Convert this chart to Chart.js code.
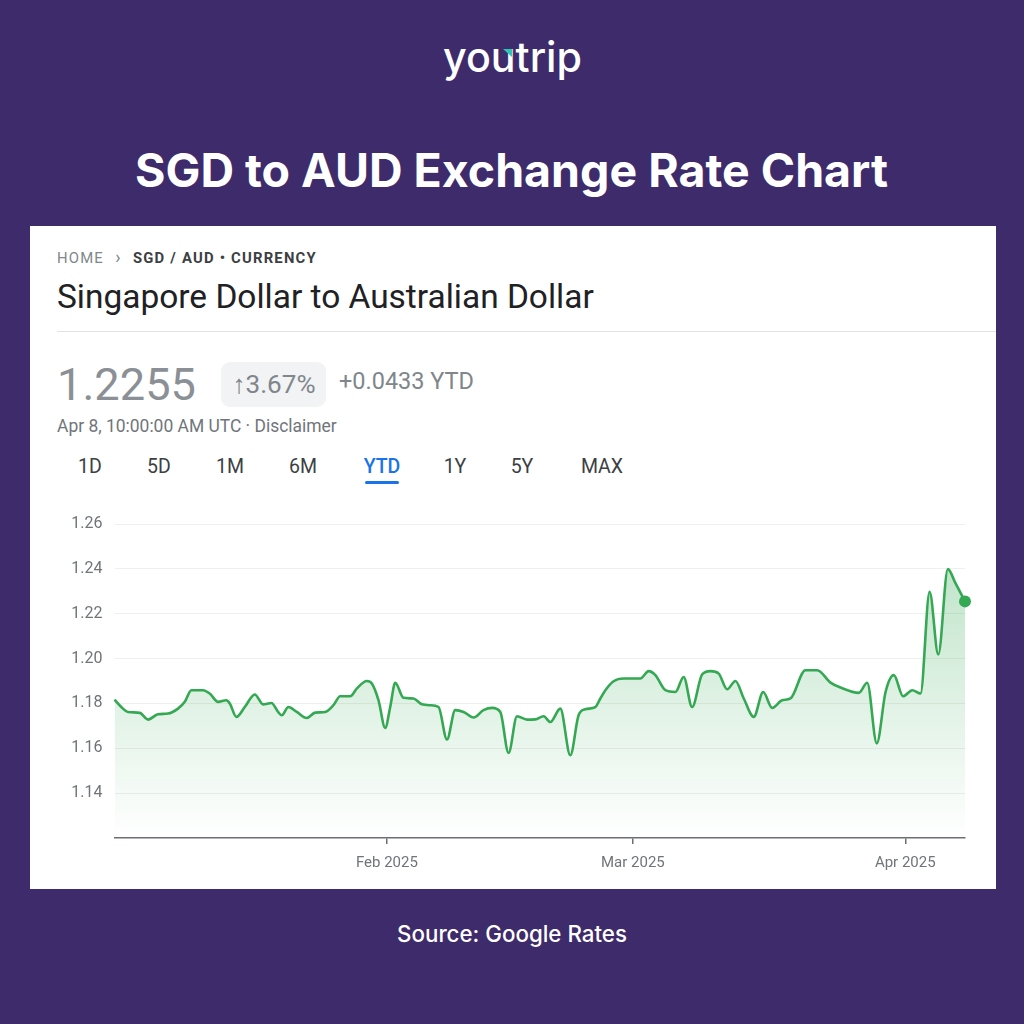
<!DOCTYPE html>
<html>
<head>
<meta charset="utf-8">
<script src="https://cdn.jsdelivr.net/npm/chart.js@4.4.1/dist/chart.umd.min.js"></script>
<style>
html,body{margin:0;padding:0;}
body{width:1024px;height:1024px;background:#3e2b6b;position:relative;overflow:hidden;font-family:Roboto,Arial,sans-serif;}
.t{position:absolute;white-space:nowrap;line-height:1;}
#card{position:absolute;left:30px;top:226px;width:966px;height:663px;background:#fff;}
#divider{position:absolute;left:57px;top:331px;width:939px;height:1px;background:#e3e3e3;}
#pill{position:absolute;left:221px;top:362px;width:105px;height:45px;background:#f1f3f4;border-radius:9px;}
#uline{position:absolute;left:365px;top:481px;width:34px;height:3px;background:#1a73e8;border-radius:2px;}
#accent{position:absolute;width:0;height:0;border-left:9px solid transparent;border-top:8px solid #2ec4b6;}
#chartBox{position:absolute;left:30px;top:500px;width:966px;height:385px;}
</style>
</head>
<body>
<div id="card"></div>
<div id="logo" class="t" style="color:#fff;font-family:Inter,'Open Sans',sans-serif;font-weight:500;">youtrip</div>
<div id="accent"></div>
<div id="title" class="t" style="color:#fff;font-family:Inter,'Open Sans',sans-serif;font-weight:700;">SGD to AUD Exchange Rate Chart</div>
<div id="crumb" class="t" style="letter-spacing:1.2px;color:#5f6368;"><span style="color:#80868b">HOME</span><span style="color:#80868b;font-size:1.2em;">&nbsp;&nbsp;›&nbsp;&nbsp;</span><span style="font-weight:700;color:#3c4043">SGD / AUD • CURRENCY</span></div>
<div id="heading" class="t" style="color:#202124;">Singapore Dollar to Australian Dollar</div>
<div id="divider"></div>
<div id="price" class="t" style="color:#8b9096;">1.2255</div>
<div id="pill"></div>
<div id="pct" class="t" style="color:#80868b;">↑3.67%</div>
<div id="ytd" class="t" style="color:#80868b;">+0.0433 YTD</div>
<div id="date" class="t" style="color:#70757a;">Apr 8, 10:00:00 AM UTC · Disclaimer</div>
<div id="tab0" class="t" style="color:#3c4043;">1D</div>
<div id="tab1" class="t" style="color:#3c4043;">5D</div>
<div id="tab2" class="t" style="color:#3c4043;">1M</div>
<div id="tab3" class="t" style="color:#3c4043;">6M</div>
<div id="tab4" class="t" style="color:#1a73e8;font-weight:500;">YTD</div>
<div id="tab5" class="t" style="color:#3c4043;">1Y</div>
<div id="tab6" class="t" style="color:#3c4043;">5Y</div>
<div id="tab7" class="t" style="color:#3c4043;">MAX</div>
<div id="uline"></div>
<div id="chartBox"><canvas id="c" width="966" height="385"></canvas></div>
<div id="source" class="t" style="color:#fff;font-family:Inter,'Open Sans',sans-serif;font-weight:500;">Source: Google Rates</div>

<script>
// Days since Jan 1 2025 (x) and SGD->AUD rate (y)
const days = [0,0.77,1.54,2.87,3.82,4.95,6.09,7.23,8.0,8.75,
10.08,10.84,11.79,12.73,13.12,13.87,14.83,15.97,16.91,17.86,
18.62,19.04,19.79,20.75,21.89,22.84,23.97,24.92,25.68,26.82,
27.59,28.72,29.29,30.05,30.81,31.38,31.95,32.89,34.03,34.99,
35.93,36.88,37.84,38.78,39.73,40.87,42.0,42.96,43.91,44.85,
45.81,46.95,47.89,48.84,49.6,50.74,51.88,52.82,53.59,54.73,
55.3,55.87,56.81,57.95,59.85,60.8,61.56,62.7,63.84,64.78,
65.74,66.88,67.82,68.77,69.73,70.67,71.62,72.76,73.83,74.85,
75.99,76.94,78.64,79.98,81.49,82.63,84.71,85.67,86.76,87.76,
88.7,89.75,90.8,91.74,92.77,93.76,94.85,95.73,96.8];
const rates = [1.1817,1.1784,1.1762,1.1758,1.1728,1.1752,1.1755,1.1777,1.1807,1.1859,
1.1859,1.1844,1.1807,1.1814,1.1800,1.1740,1.1784,1.1840,1.1796,1.1802,
1.1762,1.1747,1.1784,1.1762,1.1735,1.1759,1.1762,1.1792,1.1832,1.1832,
1.1867,1.1900,1.1889,1.1814,1.1691,1.1784,1.1892,1.1825,1.1822,1.1796,
1.1792,1.1784,1.1639,1.1770,1.1762,1.1737,1.1770,1.1780,1.1762,1.1579,
1.1743,1.1728,1.1729,1.1743,1.1717,1.1777,1.1569,1.1747,1.1774,1.1784,
1.1822,1.1859,1.1899,1.1911,1.1911,1.1944,1.1926,1.1859,1.1851,1.1918,
1.1784,1.1929,1.1944,1.1933,1.1863,1.1900,1.1822,1.1740,1.1851,1.1780,
1.1814,1.1822,1.1948,1.1948,1.1893,1.1871,1.1847,1.1892,1.1622,1.1851,
1.1926,1.1832,1.1859,1.1844,1.2298,1.2018,1.2399,1.2335,1.2255];
const monthTickDays = [31, 59, 90];
const monthTickLabels = ['Feb 2025', 'Mar 2025', 'Apr 2025'];
const yTickValues = [1.12, 1.14, 1.16, 1.18, 1.20, 1.22, 1.24, 1.26];

function place(id, o){
  const el = document.getElementById(id);
  el.style.fontSize = o.size + 'px';
  let r = el.getBoundingClientRect();
  if (o.w) {
    const s = o.size * o.w / r.width;
    el.style.fontSize = s + 'px';
    r = el.getBoundingClientRect();
  }
  const left = (o.cx !== undefined) ? o.cx - r.width/2 : o.x;
  el.style.left = left + 'px';
  el.style.top = (o.cy - r.height/2) + 'px';
}
place('logo', {size:40, w:139, cx:512.5, cy:58});
const acc = document.getElementById('accent'); acc.style.left='503px'; acc.style.top='49px';
place('title', {size:42, w:753, cx:511.5, cy:170});
place('crumb', {size:13, w:265, x:57, cy:257});
place('heading', {size:28, w:537, x:57, cy:297});
place('price', {size:48, w:139, x:57, cy:385});
place('pct', {size:19, w:83, cx:274, cy:384});
place('ytd', {size:19, w:135, x:339, cy:382});
place('date', {size:15, w:280, x:57, cy:427});
const tabX = [90,159,230,303,382,455,522,602];
tabX.forEach((x,i)=>place('tab'+i, {size:19.5, cx:x, cy:467}));
place('source', {size:20, w:230, cx:512, cy:934});

const ctx = document.getElementById('c').getContext('2d');
const pts = days.map((d,i)=>({x:d, y:rates[i]}));
new Chart(ctx, {
  type: 'line',
  data: {
    datasets: [{
      data: pts,
      clip: 12,
      borderColor: '#34a853',
      borderWidth: 2.6,
      cubicInterpolationMode: 'monotone',
      fill: 'start',
      backgroundColor: (c) => {
        const ch = c.chart; const a = ch.chartArea;
        if (!a) return 'rgba(52,168,83,0.1)';
        const g = ch.ctx.createLinearGradient(0, a.top + 46, 0, a.bottom);
        g.addColorStop(0, 'rgba(52,168,83,0.30)');
        g.addColorStop(1, 'rgba(52,168,83,0.0)');
        return g;
      },
      pointRadius: days.map((d,i)=> i === days.length-1 ? 6 : 0),
      pointBackgroundColor: '#34a853',
      pointBorderWidth: 0,
      pointHoverRadius: 0
    }]
  },
  options: {
    responsive: false,
    animation: false,
    events: [],
    layout: { padding: { top: 24, right: 31, bottom: 0, left: 0 } },
    plugins: { legend: { display: false }, tooltip: { enabled: false } },
    scales: {
      x: {
        type: 'linear',
        min: 0,
        max: 96.8,
        afterBuildTicks: (s) => { s.ticks = monthTickDays.map(v=>({value:v})); },
        afterFit: (s) => { s.height = 47; },
        ticks: {
          autoSkip: false,
          maxRotation: 0,
          padding: 10,
          color: '#70757a',
          font: { family: 'Roboto', size: 15 },
          callback: (v) => { const i = monthTickDays.indexOf(v); return i >= 0 ? monthTickLabels[i] : ''; }
        },
        grid: { display: true, drawOnChartArea: false, drawTicks: true, tickLength: 6, color: '#6b6e72', lineWidth: 1.5 },
        border: { display: true, color: '#6b6e72', width: 1.5 }
      },
      y: {
        min: 1.12,
        max: 1.26,
        afterBuildTicks: (s) => { s.ticks = yTickValues.map(v=>({value:v})); },
        afterFit: (s) => { s.width = 84.5; },
        ticks: {
          padding: 12,
          color: '#70757a',
          font: { family: 'Roboto', size: 16 },
          callback: (v) => (Math.abs(v - 1.12) < 1e-6 ? '' : v.toFixed(2))
        },
        grid: {
          drawTicks: false,
          color: (c) => (c.tick && Math.abs(c.tick.value - 1.12) < 1e-6 ? 'rgba(0,0,0,0)' : '#efefef'),
          lineWidth: 1
        },
        border: { display: false }
      }
    }
  }
});
</script>
</body>
</html>
